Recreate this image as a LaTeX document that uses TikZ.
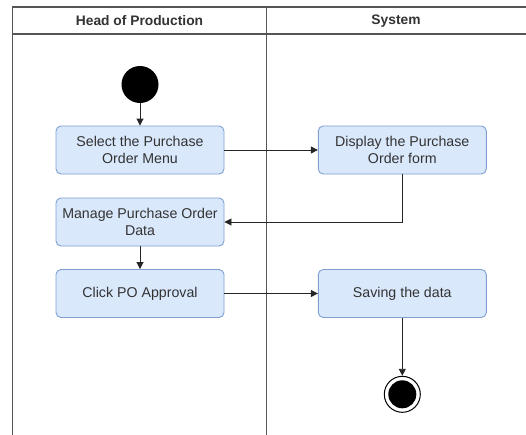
\documentclass[tikz,border=0pt]{standalone}
\usepackage{fontspec}
\setmainfont{Liberation Sans}
\usetikzlibrary{arrows.meta}
\definecolor{boxfill}{HTML}{DAE8FC}
\definecolor{boxline}{HTML}{7EA0D0}
\definecolor{txt}{HTML}{333333}
\definecolor{lane}{HTML}{555555}
\begin{document}
\begin{tikzpicture}[x=1pt,y=-1pt,
  actbox/.style={draw=boxline, fill=boxfill, rounded corners=5pt, line width=0.9pt,
    minimum width=168pt, minimum height=48pt, inner sep=0pt, align=center,
    text=txt, font=\fontsize{14.2}{16.5}\selectfont},
  hdr/.style={font=\fontsize{13.8}{15}\selectfont\bfseries, text=txt, inner sep=0pt},
  flow/.style={draw=black!85, line width=0.9pt, -{Triangle[length=7pt,width=7pt]}},
  lanel/.style={draw=lane, line width=1.3pt}]
\useasboundingbox (0,0) rectangle (526,434);
\fill[white] (0,0) rectangle (526,434);
% swimlanes
\draw[lanel] (12.5,436) -- (12.5,7) -- (528,7);
\draw[lanel] (12.5,34) -- (528,34);
\draw[lanel] (266.5,7) -- (266.5,436);
\node[hdr] (h1) at (139.5,21) {Head of Production};
\node[hdr] (h2) at (396,21) {System};
% nodes
\node[circle, fill=black, minimum size=37pt, inner sep=0pt] (start) at (140,84.5) {};
\node[actbox] (sel) at (140,150) {Select the Purchase\\Order Menu};
\node[actbox] (disp) at (402.3,150) {Display the Purchase\\Order form};
\node[actbox] (man) at (140,222) {Manage Purchase Order\\Data};
\node[actbox] (click) at (140,293.5) {Click PO Approval};
\node[actbox] (save) at (402.3,293.5) {Saving the data};
\node[circle, draw=black, line width=1pt, minimum size=36pt, inner sep=0pt] (end) at (402.3,394.3) {};
\fill[black] (end.center) circle (14pt);
% connectors
\draw[flow] (start) -- (sel);
\draw[flow] (sel) -- (disp);
\draw[flow] (disp.south) |- (man.east);
\draw[flow] (man) -- (click);
\draw[flow] (click) -- (save);
\draw[flow] (save) -- (end);
\end{tikzpicture}
\end{document}
